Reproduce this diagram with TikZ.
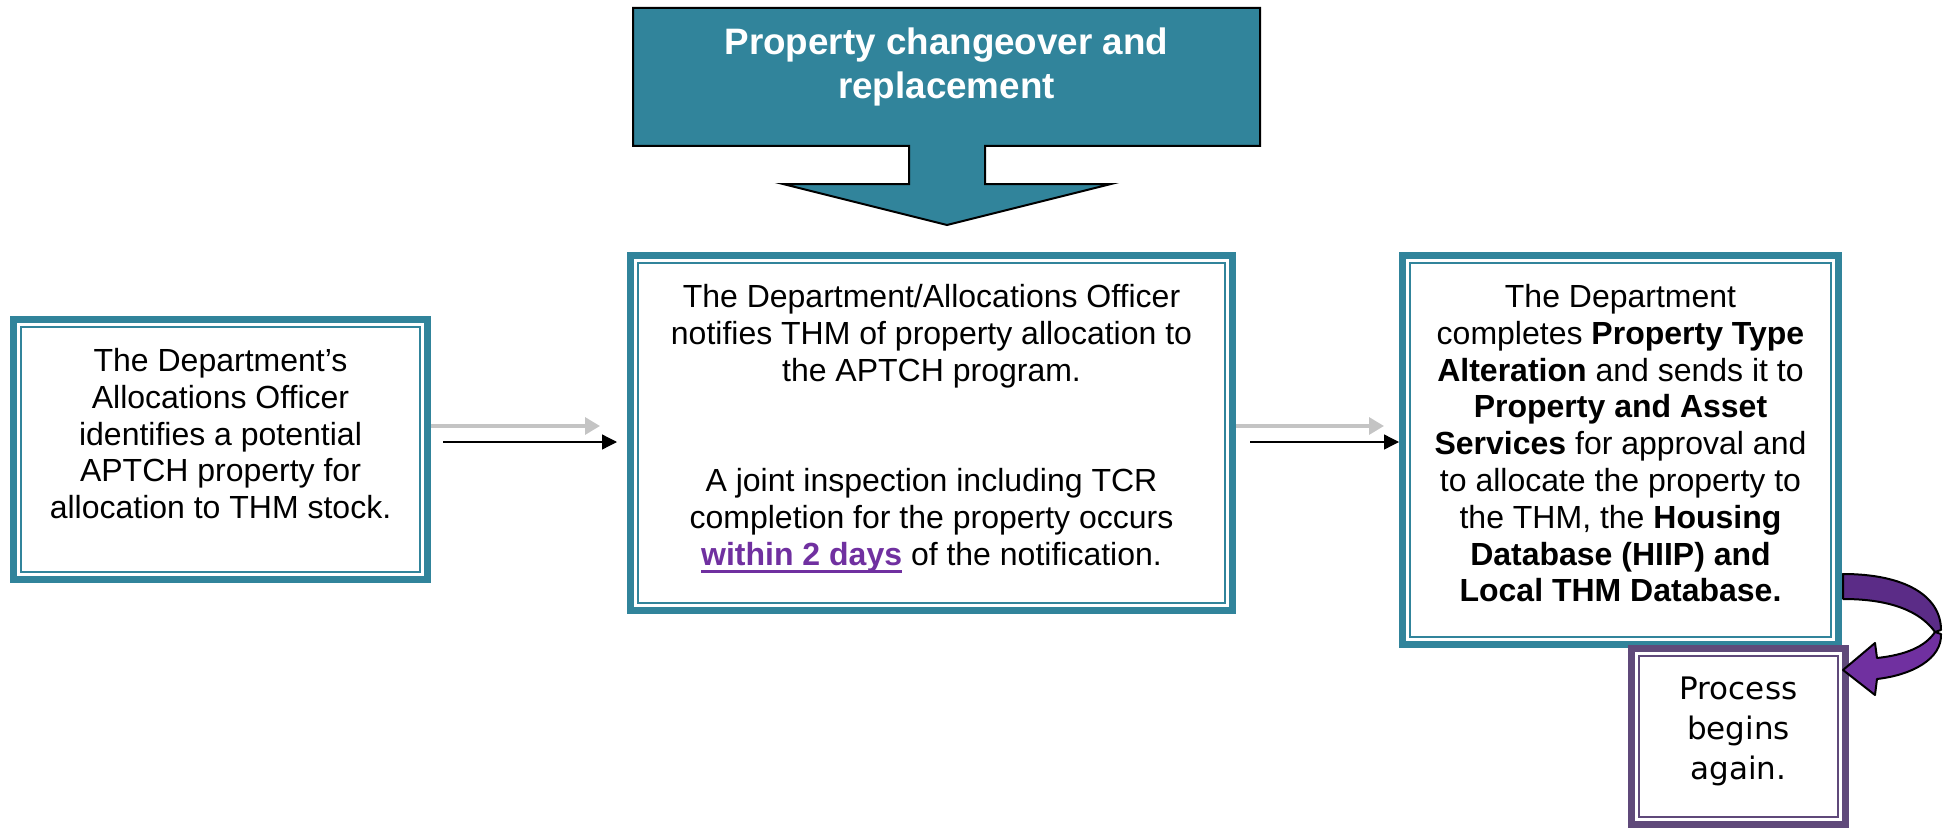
\documentclass[tikz,border=0pt]{standalone}
\usepackage{fontspec}
\setmainfont{Liberation Sans}
\newfontfamily\vera{DejaVu Sans}
\usetikzlibrary{arrows.meta,positioning}
\definecolor{thmteal}{HTML}{31849B}
\definecolor{thmplum}{HTML}{5F497A}
\definecolor{loopdk}{HTML}{5B2C87}
\definecolor{loopvi}{HTML}{7030A0}
\definecolor{arrgrey}{HTML}{C4C4C4}
% thick underline for the deadline
\newcommand{\dayul}[1]{\setbox0\hbox{#1}\rlap{\rule[-3.8pt]{\wd0}{1.3pt}}\box0}

\begin{document}
\begin{tikzpicture}[x=0.5pt,y=-0.5pt,>=Stealth,
  bx/.style={draw=thmteal,line width=3.5pt,fill=white,inner sep=0pt},
  tx/.style={align=center,inner sep=0pt,font=\fontsize{16}{18.4}\selectfont},
  a/.style={-{Triangle[length=7.5pt,width=7.5pt]},line width=0.65pt},
  ag/.style={-{Triangle[length=7.5pt,width=8.5pt]},arrgrey,line width=1.6pt}]
\useasboundingbox (0,0) rectangle (1944,829);
% banner with its down arrow
\draw[fill=thmteal,line width=1pt] (633,8) -- (1260,8) -- (1260,146) -- (985,146)
  -- (985,184) -- (1111,184) -- (947,225) -- (783,184) -- (909,184) -- (909,146)
  -- (633,146) -- cycle;
\node[tx,anchor=north,text=white,font=\fontsize{18.4}{22}\selectfont\bfseries] (ttl)
  at (946.5,27) {Property changeover and\\replacement};
% boxes
\node[bx,minimum width=207pt,minimum height=130pt] (id) at (220.5,449.5) {};
\node[bx,minimum width=301pt,minimum height=177.5pt] (nt) at (931.5,433) {};
\node[bx,minimum width=218pt,minimum height=194.5pt] (al) at (1620.5,450) {};
\node[bx,draw=thmplum,minimum width=107pt,minimum height=88pt] (pb) at (1738.5,736.5) {};
\foreach \n/\c in {id/thmteal,nt/thmteal,al/thmteal,pb/thmplum}
  \draw[\c,line width=1.2pt] ([shift={(5.6pt,-5.6pt)}]\n.north west)
    rectangle ([shift={(-5.6pt,5.6pt)}]\n.south east);
% texts
\node[tx,below=16pt of id.north] (id-t) {The Department’s\\Allocations Officer\\
  identifies a potential\\APTCH property for\\allocation to THM stock.};
\node[tx,below=16pt of nt.north] (nt-t) {The Department/Allocations Officer\\
  notifies THM of property allocation to\\the APTCH program.\\[36.8pt]
  A joint inspection including TCR\\completion for the property occurs\\
  {\color{loopvi}\dayul{\textbf{within 2 days}}} of the notification.};
\node[tx,below=16pt of al.north] (al-t) {The Department\\
  completes \textbf{Property Type}\\\textbf{Alteration} and sends it to\\
  \textbf{Property and Asset}\\\textbf{Services} for approval and\\
  to allocate the property to\\the THM, the \textbf{Housing}\\
  \textbf{Database (HIIP) and}\\\textbf{Local THM Database.}};
\node[tx,font=\vera\fontsize{15.5}{20}\selectfont,below=15.5pt of pb.north] (pb-t)
  {Process\\begins\\again.};
% flow arrows
\draw[ag,shorten >=13.5pt] ([yshift=11.75pt]id.east) -- ([yshift=11.75pt]nt.west |- id.east);
\draw[a,shorten <=6pt,shorten >=5pt] ([yshift=3.75pt]id.east) -- ([yshift=3.75pt]nt.west |- id.east);
\draw[ag,shorten >=7.5pt] ([yshift=3.5pt]nt.east) -- ([yshift=3.5pt]al.west |- nt.east);
\draw[a,shorten <=7pt] ([yshift=-4.5pt]nt.east) -- ([yshift=-4.5pt]al.west |- nt.east);
% loop back arrow
\begin{scope}[shift={(al.south east)},line width=1pt,line join=round]
  \draw[fill=loopdk] (1,-74) .. controls (63,-74) and (99,-52) .. (99,-18) -- (93,-16)
    .. controls (78,-37) and (48,-49) .. (1,-49) -- cycle;
  \draw[fill=loopvi] (93,-16) .. controls (83,-1) and (63,7) .. (35,10) -- (33,-5)
    -- (1,22) -- (33,47) -- (35,31) .. controls (70,27) and (100,11) .. (99,-14) -- cycle;
\end{scope}
\end{tikzpicture}
\end{document}
